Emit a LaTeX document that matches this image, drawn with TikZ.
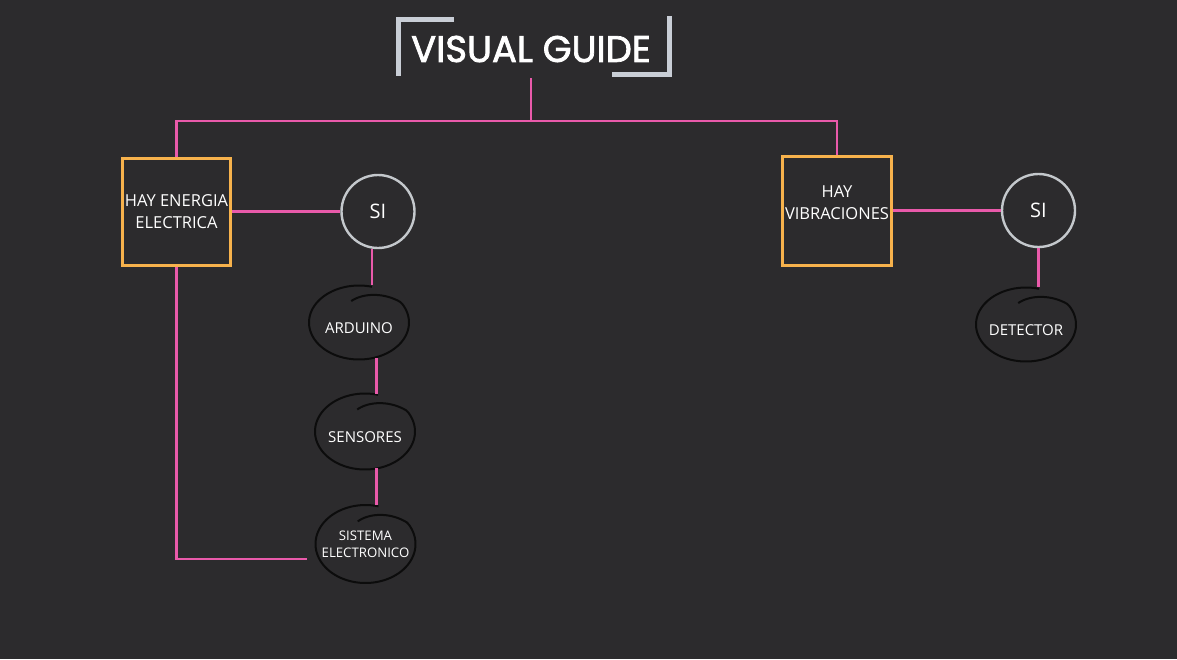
\documentclass[tikz,border=0pt]{standalone}
\usepackage{fontspec}
\setmainfont{Open Sans}
\newfontfamily\titlefont[FakeBold=2]{Poppins}
\usetikzlibrary{shapes.geometric}
\definecolor{board}{RGB}{44,43,45}
\definecolor{chalkpink}{RGB}{233,90,170}
\definecolor{boxorange}{RGB}{247,178,76}
\definecolor{framegray}{RGB}{201,206,214}
\definecolor{ringgray}{RGB}{196,200,204}
\definecolor{inkblack}{RGB}{12,12,12}
\begin{document}
\begin{tikzpicture}[x=1pt, y=-1pt,
    link/.style={draw=chalkpink, line width=2.6pt},
    question/.style={draw=boxorange, line width=3pt, minimum width=108pt, minimum height=107pt, inner sep=0pt, text=white, align=center, font=\fontsize{16.5}{22}\selectfont},
    answer/.style={circle, draw=ringgray, line width=2.4pt, minimum size=73pt, inner sep=0pt, text=white, font=\fontsize{20}{22}\selectfont},
    oval/.style={ellipse, minimum width=100pt, minimum height=75pt, inner xsep=-12pt, inner ysep=0pt, text=white, align=center, font=\fontsize{15}{17}\selectfont},
    ovaltext/.style={oval, text height=21pt, text depth=0pt},
    scribble/.style={draw=inkblack, line width=2pt}]
\fill[board] (0,0) rectangle (1177,659);

\node[text=white, font=\titlefont\fontsize{37}{37}\selectfont, minimum height=58pt, inner sep=0pt] (title) at (531,49) {VISUAL GUIDE};
\draw[framegray, line width=5pt] (454,19.5) -- (398,19.5) -- (398,76);
\draw[framegray, line width=5pt] (612,74) -- (669.5,74) -- (669.5,16);

\node[question] (box1) at (176.5,211.5) {HAY ENERGIA\\ELECTRICA};
\node[question, minimum width=109pt, minimum height=109pt] (box2) at (837,210.5) {HAY\\VIBRACIONES\\[-6pt]\mbox{}};
\node[answer] (si1) at (378,211.5) {SI};
\node[answer] (si2) at (1038.5,210.5) {SI};
\node[ovaltext] (ard) at (359,322.5) {ARDUINO};
\node[ovaltext] (sen) at (365,431.5) {SENSORES};
\node[oval, minimum height=78pt, font=\fontsize{13.2}{17}\selectfont] (sis) at (365.5,544) {SISTEMA\\ELECTRONICO};
\node[ovaltext] (det) at (1026,324.5) {DETECTOR};

\foreach \n/\rx/\ry in {ard/50/37, sen/50/38, sis/50/39, det/50/37}
{
    \draw[scribble, shift={(\n.center)}] plot[domain=0:390, samples=100, smooth] ({\rx*min(1,0.6+\x/180)*cos(105-\x)}, {-\ry*min(1,0.6+\x/180)*sin(105-\x)});
}

\coordinate (hub) at (531,121);
\draw[link] (title.south) -- (hub);
\draw[link] (box1.north) |- (hub) -| (box2.north);
\draw[link] (box1.east) -- (si1.west);
\draw[link] (box2.east) -- (si2.west);
\draw[link] (si1.261) -- (si1.261 |- ard.north);
\draw[link] (ard.296) -- (ard.296 |- sen.north);
\draw[link] (sen.287) -- (sen.287 |- sis.north);
\draw[link] (si2.south) -- (si2.south |- det.north);
\draw[link] (box1.south) |- ([xshift=-8pt,yshift=-15pt]sis.west);

\end{tikzpicture}
\end{document}
